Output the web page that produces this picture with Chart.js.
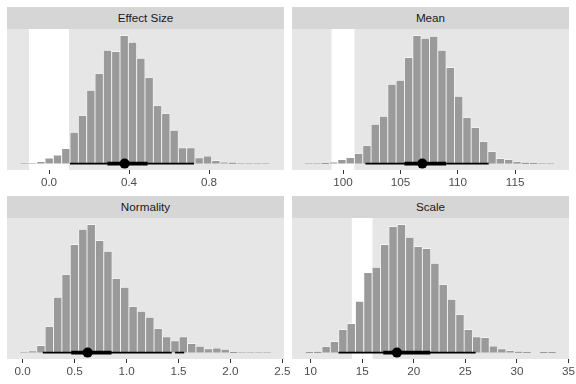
<!DOCTYPE html>
<html>
<head>
<meta charset="utf-8">
<script src="https://cdn.jsdelivr.net/npm/chart.js@4.4.1/dist/chart.umd.min.js"></script>
<style>
html,body{margin:0;padding:0;background:#ffffff;width:576px;height:384px;overflow:hidden;}
.strip{position:absolute;background:#D6D6D6;color:#1A1A1A;font-family:"Liberation Sans",Arial,Helvetica,sans-serif;font-size:11.7px;text-align:center;}
.box{position:absolute;}
</style>
</head>
<body>
<script>
// ---------- data ----------
const titles = ["Effect Size", "Mean", "Normality", "Scale"];

// histogram counts (30 bins each)
const effectSizeCounts = [1,1,7,19,30,53,109,168,256,315,396,392,448,424,368,301,203,175,116,55,55,20,26,11,5,4,1,1,1,1];
const meanCounts       = [1,1,2,5,14,21,35,63,137,165,277,291,371,448,438,445,396,336,235,161,126,77,42,18,14,7,3,2,1,1];
const normalityCounts  = [1,6,25,91,193,273,378,431,448,392,354,259,228,161,144,123,84,55,41,55,32,22,13,16,12,2,1,1,1,1];
const scaleCounts      = [2,4,21,39,81,102,179,280,298,378,441,448,403,371,364,312,238,186,133,81,55,53,23,13,7,4,2,0,2,2];

// left edge of the first bin and bin width per panel
const binStart = [-0.145, 96.63, -0.025, 9.48];
const binWidth = [0.04167, 0.727, 0.0806, 0.811];

// region of practical equivalence (white band)
const ropeLow  = [-0.1, 99, null, 14];
const ropeHigh = [0.1, 101, null, 16];

// point + intervals
const pointEstimate  = [0.378, 106.91, 0.626, 18.37];
const innerInterval  = [[0.292, 0.493], [105.35, 108.98], [0.468, 0.855], [17.05, 21.6]];
const outerIntervals = [[[0.105, 0.725]], [[101.95, 112.7]], [[0.194, 1.435], [1.467, 1.555]], [[12.7, 26.0]]];

// axes
const xLimits = [[-0.21, 1.175], [95.55, 119.7], [-0.15, 2.515], [8.2, 35.05]];
const tickValues = [[0, 0.4, 0.8], [100, 105, 110, 115], [0, 0.5, 1, 1.5, 2, 2.5], [10, 15, 20, 25, 30, 35]];
const tickLabels = [["0.0", "0.4", "0.8"], ["100", "105", "110", "115"], ["0.0", "0.5", "1.0", "1.5", "2.0", "2.5"], ["10", "15", "20", "25", "30", "35"]];

const allCounts = [effectSizeCounts, meanCounts, normalityCounts, scaleCounts];

// ---------- layout ----------
const PANEL_LEFT = [7, 292, 7, 292];
const PANEL_W = 277;
const STRIP_TOP = [7, 7, 196, 196];
const STRIP_H = 22;
const PLOT_H = 141;
const AXIS_H = 26;
const PAD = 24;

const PANEL_BG = '#E6E6E6';
const BAR_FILL = '#9A9A9A';

Chart.defaults.font.family = '"Liberation Sans", Arial, Helvetica, sans-serif';

const bgPlugin = {
  id: 'panelBg',
  beforeDraw(chart, args, opts) {
    const {ctx, chartArea: a, scales: {x}} = chart;
    ctx.save();
    ctx.fillStyle = PANEL_BG;
    ctx.fillRect(a.left, a.top, a.right - a.left, a.bottom - a.top);
    if (opts.lo !== null && opts.lo !== undefined) {
      const x1 = Math.max(a.left, x.getPixelForValue(opts.lo));
      const x2 = Math.min(a.right, x.getPixelForValue(opts.hi));
      ctx.fillStyle = '#FFFFFF';
      ctx.fillRect(x1, a.top, x2 - x1, a.bottom - a.top);
    }
    ctx.restore();
  }
};

function makePanel(i) {
  const strip = document.createElement('div');
  strip.className = 'strip';
  strip.style.left = PANEL_LEFT[i] + 'px';
  strip.style.top = STRIP_TOP[i] + 'px';
  strip.style.width = PANEL_W + 'px';
  strip.style.height = STRIP_H + 'px';
  strip.style.lineHeight = STRIP_H + 'px';
  strip.textContent = titles[i];
  document.body.appendChild(strip);

  const box = document.createElement('div');
  box.className = 'box';
  const W = PANEL_W + 2 * PAD, H = PLOT_H + AXIS_H;
  box.style.left = (PANEL_LEFT[i] - PAD) + 'px';
  box.style.top = (STRIP_TOP[i] + STRIP_H) + 'px';
  box.style.width = W + 'px';
  box.style.height = H + 'px';
  const cv = document.createElement('canvas');
  cv.width = W; cv.height = H;
  cv.style.width = W + 'px'; cv.style.height = H + 'px';
  box.appendChild(cv);
  document.body.appendChild(box);

  const counts = allCounts[i];
  const ymax = Math.max(...counts);
  const bars = counts.map((c, k) => ({x: binStart[i] + (k + 0.5) * binWidth[i], y: c}));

  const datasets = [{
    type: 'bar',
    data: bars,
    backgroundColor: BAR_FILL,
    borderColor: 'rgba(255,255,255,0.55)',
    borderWidth: 0.8,
    barPercentage: 1,
    categoryPercentage: 1,
    order: 5
  }];
  outerIntervals[i].forEach(seg => {
    datasets.push({
      type: 'line',
      data: [{x: seg[0], y: 0}, {x: seg[1], y: 0}],
      borderColor: '#000000',
      borderWidth: 1.7,
      pointRadius: 0,
      borderCapStyle: 'butt',
      order: 3
    });
  });
  datasets.push({
    type: 'line',
    data: [{x: innerInterval[i][0], y: 0}, {x: innerInterval[i][1], y: 0}],
    borderColor: '#000000',
    borderWidth: 3.6,
    pointRadius: 0,
    borderCapStyle: 'butt',
    order: 2
  });
  datasets.push({
    type: 'line',
    data: [{x: pointEstimate[i], y: 0}],
    showLine: false,
    pointRadius: 5,
    pointBackgroundColor: '#000000',
    pointBorderColor: '#000000',
    pointBorderWidth: 0,
    order: 1
  });

  new Chart(cv, {
    type: 'bar',
    data: {datasets},
    plugins: [bgPlugin],
    options: {
      responsive: false,
      animation: false,
      devicePixelRatio: 1,
      events: [],
      layout: {padding: {left: PAD, right: PAD, top: 0, bottom: 0}, autoPadding: false},
      plugins: {
        legend: {display: false},
        tooltip: {enabled: false},
        panelBg: {lo: ropeLow[i], hi: ropeHigh[i]}
      },
      scales: {
        x: {
          type: 'linear',
          offset: false,
          min: xLimits[i][0],
          max: xLimits[i][1],
          afterBuildTicks: s => { s.ticks = tickValues[i].map(v => ({value: v})); },
          afterFit: s => { s.height = AXIS_H; },
          grid: {display: true, drawOnChartArea: false, drawTicks: true, tickLength: 4, tickColor: '#333333', tickWidth: 1, offset: false},
          border: {display: false},
          ticks: {
            autoSkip: false,
            maxRotation: 0,
            minRotation: 0,
            padding: 2,
            color: '#4D4D4D',
            font: {size: 11.7},
            callback: (v, idx) => tickLabels[i][idx]
          }
        },
        y: {
          display: false,
          min: -0.05 * ymax,
          max: 1.05 * ymax
        }
      }
    }
  });
}

for (let i = 0; i < 4; i++) makePanel(i);
</script>
</body>
</html>
